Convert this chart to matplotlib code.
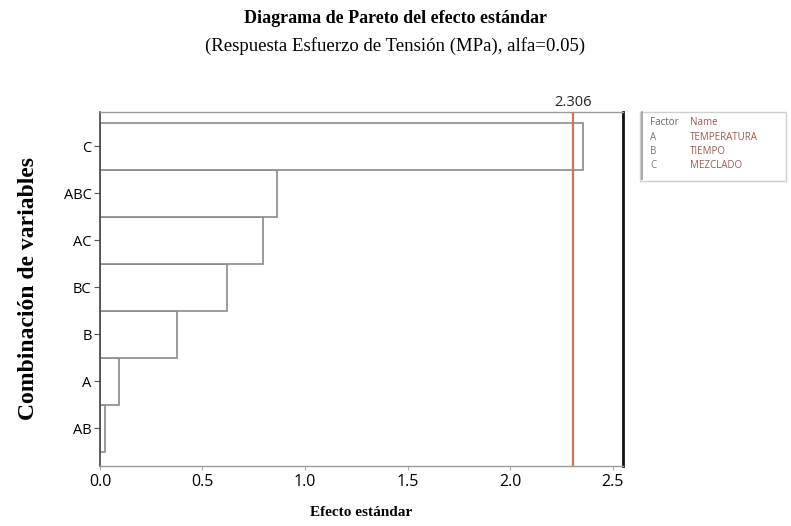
import matplotlib
matplotlib.use("Agg")
import matplotlib.pyplot as plt
from matplotlib.patches import Rectangle

# Standardized effects (absolute values), ordered bottom to top
terms = ["AB", "A", "B", "BC", "AC", "ABC", "C"]
effects = [0.026, 0.094, 0.374, 0.618, 0.797, 0.862, 2.356]
critical_value = 2.306

factor_codes = ["A", "B", "C"]
factor_names = ["TEMPERATURA", "TIEMPO", "MEZCLADO"]

serif = ["Liberation Serif", "DejaVu Serif"]
sans = ["Open Sans", "DejaVu Sans"]

fig = plt.figure(figsize=(7.91, 5.26), dpi=100)
ax = fig.add_axes([0.1264, 0.1141, 0.6612, 0.6730])

pos = list(range(len(terms)))
ax.barh(pos, effects, height=1.0, color="white", edgecolor="#8a8a8a", linewidth=1.2)

ax.axvline(critical_value, color="#c8785e", linewidth=1.6, zorder=3)
ax.text(critical_value, 1.005, f"{critical_value:.3f}", transform=ax.get_xaxis_transform(),
        ha="center", va="bottom", fontsize=10.5, family=sans, color="#222222")

ax.set_xlim(0, 2.551)
ax.set_ylim(-0.8, 6.73)
ax.set_yticks(pos)
ax.set_yticklabels(terms, family=sans, fontsize=10.5)
ax.set_xticks([0.0, 0.5, 1.0, 1.5, 2.0, 2.5])
ax.set_xticklabels(["0.0", "0.5", "1.0", "1.5", "2.0", "2.5"], family=sans, fontsize=11.5)
ax.tick_params(axis="y", length=4, color="#555555", pad=2)
ax.tick_params(axis="x", length=3, color="#aaaaaa", pad=3)

for side in ("top", "bottom"):
    ax.spines[side].set_color("#9a9a9a")
    ax.spines[side].set_linewidth(1.0)
ax.spines["left"].set_color("#444444")
ax.spines["left"].set_linewidth(1.2)
ax.spines["right"].set_color("#111111")
ax.spines["right"].set_linewidth(2.0)

ax.set_xlabel("Efecto estándar", family=serif, fontweight="bold", fontsize=11, labelpad=11)
ax.set_ylabel("Combinación de variables", family=serif, fontweight="bold", fontsize=17, labelpad=18)

fig.text(0.5, 0.965, "Diagrama de Pareto del efecto estándar", ha="center", va="center",
         family=serif, fontweight="bold", fontsize=13)
fig.text(0.5, 0.913, "(Respuesta Esfuerzo de Tensión (MPa), alfa=0.05)", ha="center", va="center",
         family=serif, fontsize=13.5)

# Factor key box to the right of the plot
box = Rectangle((0.809, 0.655), 0.185, 0.132, transform=fig.transFigure,
                facecolor="white", edgecolor="#cfcfcf", linewidth=1.0)
fig.patches.append(box)
fig.lines.append(plt.Line2D([0.811, 0.811], [0.66, 0.787], transform=fig.transFigure,
                            color="#9a9a9a", linewidth=1.2))
rows_y = [0.768, 0.739, 0.712, 0.685]
fig.text(0.822, rows_y[0], "Factor", family=sans, fontsize=7, color="#666666", va="center")
fig.text(0.872, rows_y[0], "Name", family=sans, fontsize=7, color="#9a5a50", va="center")
for y, code, name in zip(rows_y[1:], factor_codes, factor_names):
    fig.text(0.822, y, code, family=sans, fontsize=7, color="#777777", va="center")
    fig.text(0.872, y, name, family=sans, fontsize=7, color="#9a5a50", va="center")

fig.savefig("out.png", dpi=100)
